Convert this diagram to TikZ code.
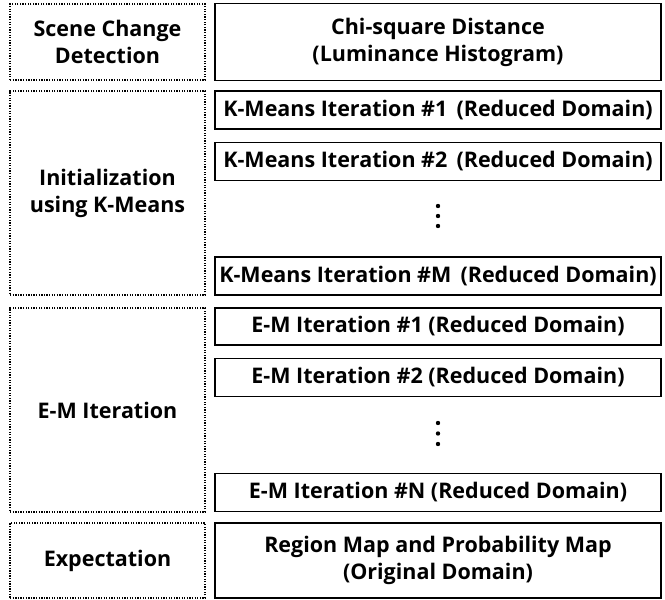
\documentclass[tikz,border=0pt]{standalone}
\usepackage{fontspec}
\setmainfont{Open Sans}
\begin{document}
\begin{tikzpicture}[x=1pt,y=-1pt,
  lbl/.style={font=\bfseries\fontsize{21.5}{27}\selectfont, align=center, inner sep=0pt},
  stage/.style={lbl, draw, line width=1.5pt, dash pattern=on 1.3pt off 1.3pt,
    minimum width=195pt},
  stepbox/.style={lbl, draw, line width=1.6pt, minimum width=446pt},
  vdot/.style={fill, circle, inner sep=0pt, minimum size=4.4pt}]
\useasboundingbox (0,0) rectangle (665,600);
\fill[white] (0,0) rectangle (665,600);

% scene change detection
\node[stage, minimum height=76pt] (scd) at (107.5,42) {Scene Change\\Detection};
\node[stepbox, minimum height=77pt] (chi) at (438,42) {Chi-square Distance\\(Luminance Histogram)};

% initialization with k-means
\node[stage, minimum height=204pt] (init) at (107.5,193) {Initialization\\using K-Means};
\node[stepbox, minimum height=38pt] (km1) at (438,110) {K-Means Iteration \#1\, (Reduced Domain)};
\node[stepbox, minimum height=38pt] (km2) at (438,161.5) {K-Means Iteration \#2\, (Reduced Domain)};
\node[vdot] (kd1) at (438,206) {};
\node[vdot] (kd2) at (438,216) {};
\node[vdot] (kd3) at (438,226) {};
\node[stepbox, minimum height=38pt] (kmM) at (438,276) {K-Means Iteration \#M\, (Reduced Domain)};

% e-m iteration
\node[stage, minimum height=204pt] (em) at (107.5,410) {E-M Iteration};
\node[stepbox, minimum height=37pt] (em1) at (438,326.5) {E-M Iteration \#1 (Reduced Domain)};
\node[stepbox, minimum height=38pt] (em2) at (438,377.5) {E-M Iteration \#2 (Reduced Domain)};
\node[vdot] (ed1) at (438,423) {};
\node[vdot] (ed2) at (438,433.5) {};
\node[vdot] (ed3) at (438,444) {};
\node[stepbox, minimum height=38pt] (emN) at (438,492.5) {E-M Iteration \#N (Reduced Domain)};

% expectation
\node[stage, minimum height=75pt] (exp) at (107.5,560.5) {Expectation};
\node[stepbox, minimum height=75pt] (map) at (438,560.5) {Region Map and Probability Map\\(Original Domain)};
\end{tikzpicture}
\end{document}
